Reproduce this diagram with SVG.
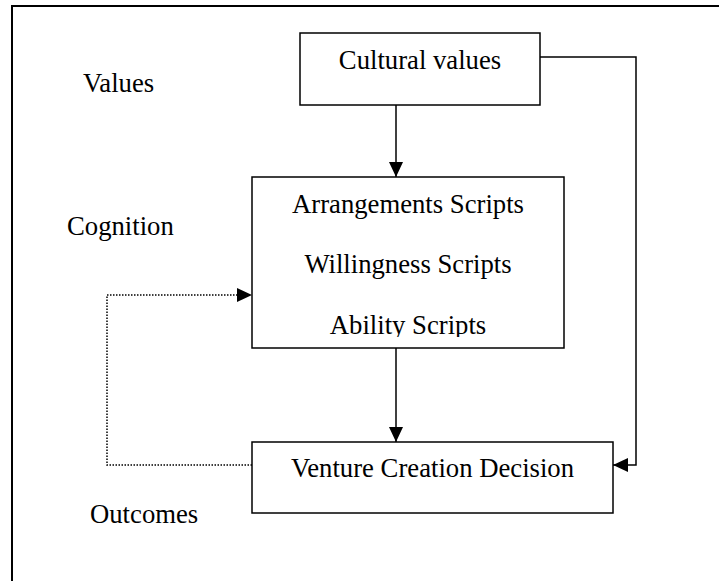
<svg xmlns="http://www.w3.org/2000/svg" width="719" height="581" viewBox="0 0 719 581">
<style>
  .box { fill: #fff; stroke: #000; stroke-width: 1.5; }
  .t { font-family: "Liberation Serif", "Times New Roman", serif; font-size: 26.7px; fill: #000; }
  .c { text-anchor: middle; }
  .ln { fill: none; stroke: #000; stroke-width: 1.5; }
  .dot { fill: none; stroke: #000; stroke-width: 1.5; stroke-dasharray: 1.5 1.5; }
</style>
<defs>
  <marker id="ah" markerUnits="userSpaceOnUse" markerWidth="16" markerHeight="16" refX="15" refY="7" orient="auto">
    <path d="M0,0 L15,7 L0,14 Z" fill="#000"/>
  </marker>
  <clipPath id="clipMid"><rect x="252" y="177" width="312" height="160"/></clipPath>
</defs>
<rect x="0" y="0" width="719" height="581" fill="#fff"/>
<rect x="12" y="6" width="730" height="600" fill="none" stroke="#000" stroke-width="2"/>

<g id="labels">
  <text class="t" x="83" y="92">Values</text>
  <text class="t" x="67" y="235">Cognition</text>
  <text class="t" x="90" y="523">Outcomes</text>
</g>

<g id="connectors">
  <line class="ln" x1="396" y1="105" x2="396" y2="177" marker-end="url(#ah)"/>
  <line class="ln" x1="396" y1="348" x2="396" y2="442" marker-end="url(#ah)"/>
  <polyline class="ln" points="540,57 636,57 636,465 613,465" marker-end="url(#ah)"/>
  <polyline class="dot" points="252,465 107,465 107,295 240,295"/>
  <path d="M237,288 L252,295 L237,302 Z" fill="#000"/>
</g>

<g id="cultural-values">
  <rect class="box" x="300" y="33" width="240" height="72"/>
  <text class="t c" x="420" y="69">Cultural values</text>
</g>

<g id="scripts">
  <rect class="box" x="252" y="177" width="312" height="171"/>
  <g clip-path="url(#clipMid)">
    <text class="t c" x="408" y="213">Arrangements Scripts</text>
    <text class="t c" x="408" y="273">Willingness Scripts</text>
    <text class="t c" x="408" y="334">Ability Scripts</text>
  </g>
</g>

<g id="venture-creation-decision">
  <rect class="box" x="252" y="442" width="361" height="71"/>
  <text class="t c" x="432.5" y="477">Venture Creation Decision</text>
</g>
</svg>
